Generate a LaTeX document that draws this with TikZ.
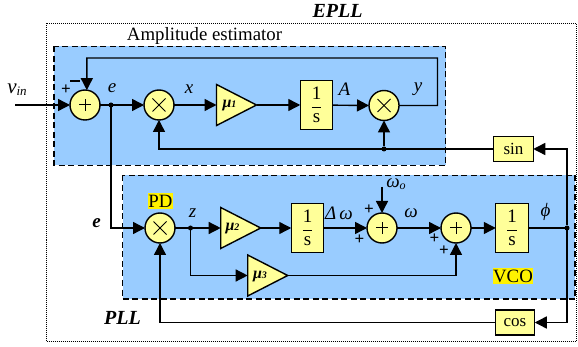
\documentclass[tikz,border=0pt]{standalone}
\usepackage{fontspec}
\setmainfont{Liberation Serif}
\usetikzlibrary{arrows.meta,shapes.geometric}
\definecolor{panel}{HTML}{99CCFF}
\definecolor{blockc}{HTML}{FFFF99}
\newcommand{\fs}[1]{\fontsize{#1}{#1}\selectfont}
\newcommand{\ints}{$\displaystyle\frac{\mbox{1}}{\mbox{s}}$}
\tikzset{
  round/.style={circle,draw,fill=blockc,minimum size=30pt,inner sep=0pt,outer sep=0pt},
  sumc/.style={round,path picture={\draw[line width=1pt] ([xshift=-6pt]path picture bounding box.center)--([xshift=6pt]path picture bounding box.center);\draw[line width=1pt] ([yshift=-6pt]path picture bounding box.center)--([yshift=6pt]path picture bounding box.center);}},
  mulc/.style={round,path picture={\draw[line width=1pt] ([shift={(-6.5pt,-6.5pt)}]path picture bounding box.center)--([shift={(6.5pt,6.5pt)}]path picture bounding box.center);\draw[line width=1pt] ([shift={(-6.5pt,6.5pt)}]path picture bounding box.center)--([shift={(6.5pt,-6.5pt)}]path picture bounding box.center);}},
  gainc/.style={isosceles triangle,isosceles triangle stretches,shape border rotate=0,draw,fill=blockc,minimum width=41pt,minimum height=40pt,inner sep=0pt,outer sep=0pt,anchor=lower side},
  intc/.style={rectangle,draw,fill=blockc,minimum width=32.5pt,minimum height=49pt,inner sep=0pt,outer sep=0pt,font=\fs{19}},
  funcc/.style={rectangle,draw,fill=blockc,minimum width=39.5pt,minimum height=25pt,inner sep=0pt,outer sep=0pt,font=\fs{17}},
  dotj/.style={circle,fill=black,minimum size=5pt,inner sep=0pt,outer sep=0pt},
  panelc/.style={draw,fill=panel,dash pattern=on 6pt off 3.5pt,line width=1.3pt},
  lab/.style={inner sep=0pt,font=\fs{19}\itshape},
  sgn/.style={inner sep=0pt,font=\fs{17}\bfseries},
  blab/.style={inner sep=0pt,font=\fs{20}\bfseries\itshape},
  mulab/.style={inner sep=0pt,font=\fs{16}\bfseries\itshape},
  wire/.style={->,line join=miter},
}
\begin{document}
\begin{tikzpicture}[x=1pt,y=-1pt,line width=1.4pt,>={Triangle[length=12pt,width=12pt]}]
\useasboundingbox (0,0) rectangle (578,347);
\draw[line width=1pt,dash pattern=on 1pt off 1pt] (46,23.5) rectangle (576.5,341);
\draw[panelc] (54,46.5) rectangle (445.5,165.5);
\draw[panelc] (122.5,175.5) rectangle (575,299);
% blocks
\node[sumc] (s1) at (85,105) {};
\node[mulc] (m1) at (159,105) {};
\node[gainc] (g1) at (216.5,105) {};
\node[mulab] (mu1) at (229.5,106) {μ\fs{10}1};
\node[intc] (i1) at (316.5,105) {\ints};
\node[mulc] (m2) at (384,105.5) {};
\node[funcc] (sinb) at (513.5,149) {sin};
\node[mulc] (pd) at (160,228) {};
\node[gainc] (g2) at (220.7,228) {};
\node[mulab] (mu2) at (232.5,229) {μ\fs{10}2};
\node[intc] (i2) at (307.5,228) {\ints};
\node[gainc] (g3) at (247.7,275.5) {};
\node[mulab] (mu3) at (260,276.5) {μ\fs{10}3};
\node[sumc] (s2) at (382,228) {};
\node[sumc] (s3) at (456,228) {};
\node[intc] (i3) at (512,228) {\ints};
\node[funcc] (cosb) at (515,322.5) {cos};
% junctions
\node[dotj] (je) at (111,105) {};
\node[dotj] (jy) at (384,149) {};
\node[dotj] (jz) at (190.5,228) {};
\node[dotj] (jp) at (567,228) {};
% free ends
\coordinate (vinstart) at (15,105);
\coordinate (fbr) at (437.5,58);
\coordinate (fbl) at (86.8,58);
\coordinate (w0start) at (382,187);
% connectors
\draw[wire] (vinstart) -- (s1);
\draw[wire] (s1) -- (m1);
\draw[wire] (m1) -- (g1.lower side);
\draw[wire] (g1.apex) -- (i1);
\draw[wire] (i1) -- (m2.west);
\draw[wire] (m2.east) -| (fbr) -- (fbl) -- (s1.83);
\draw[wire] (sinb.west) -| (m1);
\draw[wire] (jy) -- (m2);
\draw[wire] (jp) |- (sinb);
\draw[wire] (jp) |- (cosb);
\draw[wire] (je) |- (pd);
\draw[wire] (pd) -- (g2.lower side);
\draw[wire] (g2.apex) -- (i2);
\draw[wire] (jz) |- (g3.lower side);
\draw[wire] (i2) -- (s2);
\draw[wire] (w0start) -- (s2);
\draw[wire] (s2) -- (s3);
\draw[wire] (s3) -- (i3);
\draw[wire] (g3.apex) -| (s3);
\draw (i3) -- (jp);
\draw[wire] (cosb) -| (pd);
% texts
\node[inner sep=0pt,font=\fs{18.8}] (t1) at (204.5,36) {Amplitude estimator};
\node[blab] (t2) at (337.5,11) {EPLL};
\node[blab] (t3) at (122.5,318) {PLL};
\node[lab,font=\fs{21}\itshape] (t4) at (17,90) {v\fs{13}\raisebox{-2pt}{in}};
\node[lab] (t5) at (112,88) {e};
\node[lab] (t6) at (189,89) {x};
\node[lab] (t7) at (344.5,89) {A};
\node[lab] (t8) at (418,89) {y};
\node[blab,font=\fs{19}\bfseries\itshape] (t9) at (96.5,223) {e};
\node[lab] (t10) at (192.5,213) {z};
\node[lab,fill=yellow,font=\fs{18.8}\normalfont,inner xsep=0.5pt,inner ysep=1.5pt] (t11) at (160.5,201) {PD};
\node[lab,fill=yellow,font=\fs{18.8}\normalfont,inner xsep=0.5pt,inner ysep=1.5pt] (t12) at (513,276) {VCO};
\node[lab] (t13) at (339,213) {Δ\,ω};
\node[lab] (t14) at (396,184.5) {ω\fs{12}\raisebox{-2pt}{o}};
\node[lab] (t15) at (411,213) {ω};
\node[lab] (t16) at (545.5,212) {ϕ};
% signs
\node[sgn] (p1) at (66,90) {+};
\node[inner sep=0pt] (minus) at (75,81) {\rule{10pt}{2pt}};
\node[sgn] (p2) at (369,210) {+};
\node[sgn] (p3) at (359.5,240) {+};
\node[sgn] (p4) at (434.5,239) {+};
\node[sgn] (p5) at (444,251) {+};
\end{tikzpicture}
\end{document}
